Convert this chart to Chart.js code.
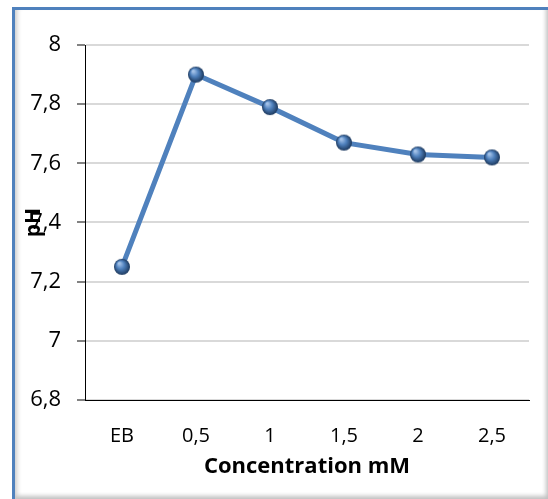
<!DOCTYPE html>
<html>
<head>
<meta charset="utf-8">
<script src="https://cdn.jsdelivr.net/npm/chart.js@4"></script>
<style>
	html, body { margin: 0; padding: 0; background: #fff; }
	#frame {
		position: absolute; left: 12px; top: 7px; width: 536px; height: 492px;
		box-sizing: border-box;
		border-left: 3px solid #4f81bd; border-top: 3px solid #4f81bd;
		box-shadow: inset 6px 0 5px -4px #c8c8c8, inset -4px -5px 4px -2px #c0c0c0;
	}
	#wrap { position: absolute; left: 0; top: 0; width: 548px; height: 499px; }
</style>
</head>
<body>
<div id="frame"></div>
<div id="wrap"><canvas id="myChart"></canvas></div>
<script>
const categories = ["EB", "0,5", "1", "1,5", "2", "2,5"];
const phValues = [7.25, 7.9, 7.79, 7.67, 7.63, 7.62];
const yTicks = [6.8, 7, 7.2, 7.4, 7.6, 7.8, 8];

const fontFamily = "'Open Sans', sans-serif";

// small shaded ball used as the marker
const makeSphere = (r) => {
	const c = document.createElement("canvas");
	const size = r * 2 + 2;
	c.width = size;
	c.height = size;
	const g = c.getContext("2d");
	const m = size / 2;
	const grad = g.createRadialGradient(m - r * 0.35, m - r * 0.45, r * 0.1, m, m, r);
	grad.addColorStop(0, "#a4c2e8");
	grad.addColorStop(0.45, "#4f81bd");
	grad.addColorStop(1, "#1c385d");
	g.fillStyle = grad;
	g.beginPath();
	g.arc(m, m, r, 0, Math.PI * 2);
	g.fill();
	return c;
};

const ctx = document.getElementById("myChart");
const myChart = new Chart(ctx, {
	type: "line",
	data: {
		labels: categories,
		datasets: [
			{
				label: "pH",
				data: phValues,
				borderColor: "#4f81bd",
				borderWidth: 5,
				pointStyle: makeSphere(8),
				pointRadius: 8,
				tension: 0,
			},
		],
	},
	options: {
		responsive: true,
		maintainAspectRatio: false,
		animation: false,
		layout: { padding: { left: 0, top: 45, right: 19, bottom: 0 } },
		plugins: { legend: { display: false }, tooltip: { enabled: false } },
		scales: {
			x: {
				offset: true,
				grid: { display: true, drawOnChartArea: false, drawTicks: false },
				border: { color: "#000", width: 1 },
				ticks: { color: "#000", padding: 24, font: { family: fontFamily, size: 20 } },
				title: {
					display: true,
					text: "Concentration mM",
					color: "#000",
					padding: { top: 0, bottom: 19 },
					font: { family: fontFamily, size: 22, weight: "bold" },
				},
				afterFit: (s) => {
					s.height = 99;
				},
			},
			y: {
				min: 6.8,
				max: 8,
				grid: { color: "#d9d9d9", lineWidth: 2, tickColor: "#595959", tickLength: 8, tickWidth: 1.5 },
				border: { color: "#000", width: 1 },
				afterBuildTicks: (s) => {
					s.ticks = yTicks.map((v) => ({ value: v }));
				},
				ticks: {
					color: "#000",
					padding: 16,
					font: { family: fontFamily, size: 22 },
					callback: (v) => String(Number(v.toFixed(1))).replace(".", ","),
				},
				title: {
					display: true,
					text: "pH",
					color: "#000",
					padding: { top: 21, bottom: 0 },
					font: { family: fontFamily, size: 21, weight: "bold" },
				},
				afterFit: (s) => {
					s.width = 85;
				},
			},
		},
	},
});
</script>
</body>
</html>
